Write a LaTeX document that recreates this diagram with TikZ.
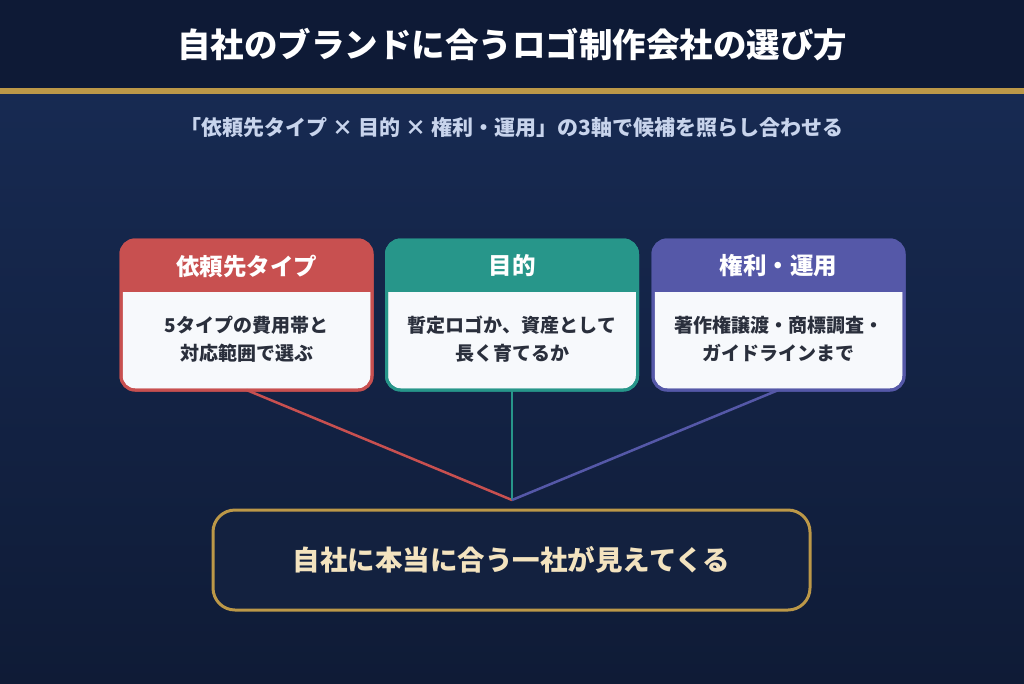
\documentclass[tikz,border=0pt]{standalone}
\usepackage{fontspec}
\newfontfamily\cjk{Noto Sans CJK JP}
\newfontfamily\cjkheavy{Noto Sans CJK JP Black}
\usetikzlibrary{positioning,calc}
\definecolor{headbg}{HTML}{0E1A36}
\definecolor{bgtop}{HTML}{172A52}
\definecolor{bgbot}{HTML}{0F1B36}
\definecolor{gold}{HTML}{BC9848}
\definecolor{subtext}{HTML}{C8D4EC}
\definecolor{typecol}{HTML}{C85050}
\definecolor{aimcol}{HTML}{27968A}
\definecolor{rightcol}{HTML}{5558A8}
\definecolor{cardbody}{HTML}{F7F9FC}
\definecolor{bodytext}{HTML}{2A2F3C}
\definecolor{resultbg}{HTML}{13213F}
\definecolor{cream}{HTML}{F3E3BF}

\begin{document}
\begin{tikzpicture}[x=1pt, y=-1pt,
    card/.style={rectangle, draw=#1, fill=cardbody, line width=3pt, outer sep=0pt, minimum width=251pt, minimum height=150pt, rounded corners=14pt},
    headlabel/.style={font=\cjkheavy\fontsize{23.5}{28}\selectfont, text=white},
    bodylabel/.style={font=\cjk\bfseries\fontsize{19}{28}\selectfont, text=bodytext, align=center},
    link/.style={line width=2.5pt, draw=#1}
]
\useasboundingbox (0,0) rectangle (1024,683);

% background
\shade[top color=bgtop, bottom color=bgbot] (0,90) rectangle (1024,683);
\fill[headbg] (0,0) rectangle (1024,89);
\fill[gold] (0,88) rectangle (1024,94);

\node[font=\cjkheavy\fontsize{33.5}{40}\selectfont, text=white] (title) at (512,45) {自社のブランドに合うロゴ制作会社の選び方};
\node[font=\cjk\bfseries\fontsize{21}{24}\selectfont, text=subtext] (subtitle) at (512,127) {「依頼先タイプ × 目的 × 権利・運用」の3軸で候補を照らし合わせる};

% cards
\node[card=typecol] (typecard) at (246.5,315) {};
\node[card=aimcol] (aimcard) at (512,315) {};
\node[card=rightcol] (rightcard) at (778.5,315) {};

\foreach \c/\col in {typecard/typecol, aimcard/aimcol, rightcard/rightcol} {
  \begin{scope}
    \clip[rounded corners=14pt] (\c.north west) rectangle (\c.south east);
    \fill[\col] (\c.north west) rectangle ($(\c.north east)+(0,52)$);
  \end{scope}
  \draw[\col, line width=3pt, rounded corners=14pt] (\c.north west) rectangle (\c.south east);
}

\node[headlabel] (typehead) at ($(typecard.north)+(0,26)$) {依頼先タイプ};
\node[headlabel] (aimhead) at ($(aimcard.north)+(0,26)$) {目的};
\node[headlabel] (righthead) at ($(rightcard.north)+(0,26)$) {権利・運用};

\node[bodylabel] (typebody) at ($(typecard.center)+(0,24)$) {5タイプの費用帯と\\対応範囲で選ぶ};
\node[bodylabel] (aimbody) at ($(aimcard.center)+(0,24)$) {暫定ロゴか、資産として\\長く育てるか};
\node[bodylabel] (rightbody) at ($(rightcard.center)+(0,24)$) {著作権譲渡・商標調査・\\ガイドラインまで};

% result
\coordinate (meet) at (512,500);
\node[rectangle, draw=gold, fill=resultbg, line width=3pt, minimum width=597pt, minimum height=100pt, rounded corners=22pt, font=\cjkheavy\fontsize{27.5}{32}\selectfont, text=cream] (result) at (511.5,560) {自社に本当に合う一社が見えてくる};

\draw[link=typecol] (typecard.south) -- (meet);
\draw[link=aimcol] (aimcard.south) -- (meet);
\draw[link=rightcol] (rightcard.south) -- (meet);

\end{tikzpicture}
\end{document}
